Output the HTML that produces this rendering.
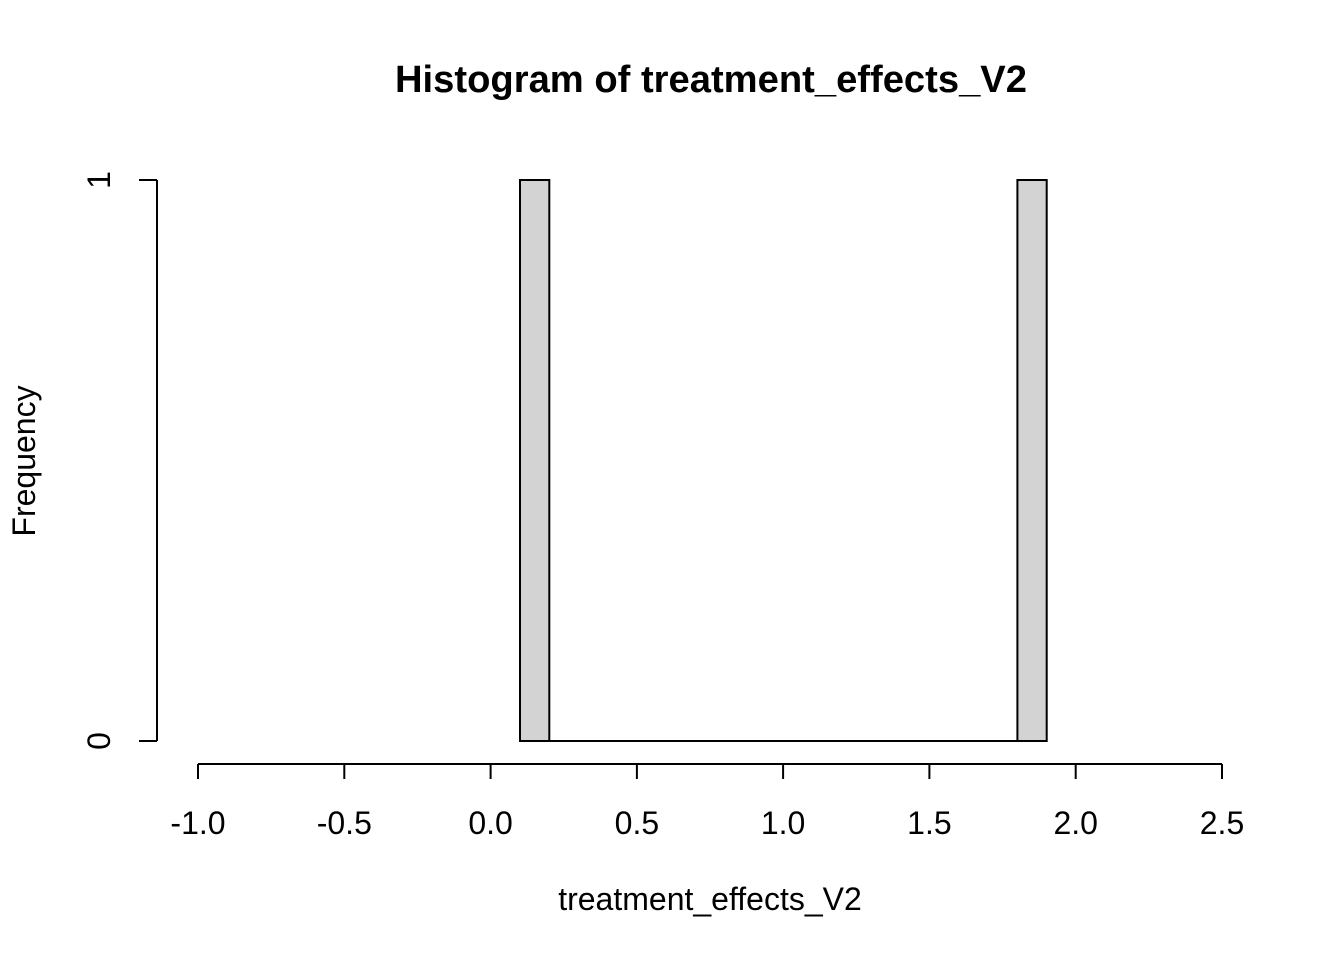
<!DOCTYPE html>
<html><head><meta charset="utf-8"><style>body{margin:0;background:#fff}svg{display:block}</style></head>
<body>
<svg width="1344" height="960" xmlns="http://www.w3.org/2000/svg" font-family="Liberation Sans, Arial, sans-serif">
<rect width="1344" height="960" fill="#fff"/>
<text x="711" y="92" text-anchor="middle" font-size="38" font-weight="bold" textLength="632" lengthAdjust="spacingAndGlyphs">Histogram of treatment_effects_V2</text>
<g fill="#d3d3d3" stroke="#000" stroke-width="2">
<rect x="520" y="180" width="29.3" height="561"/>
<rect x="1017.4" y="180" width="29.3" height="561"/>
</g>
<line x1="549" y1="741" x2="1017.4" y2="741" stroke="#000" stroke-width="2"/>
<g stroke="#000" stroke-width="2" fill="none">
<line x1="198" y1="764" x2="1222" y2="764"/>
<line x1="198" y1="764" x2="198" y2="779"/>
<line x1="344.3" y1="764" x2="344.3" y2="779"/>
<line x1="490.6" y1="764" x2="490.6" y2="779"/>
<line x1="636.9" y1="764" x2="636.9" y2="779"/>
<line x1="783.1" y1="764" x2="783.1" y2="779"/>
<line x1="929.4" y1="764" x2="929.4" y2="779"/>
<line x1="1075.7" y1="764" x2="1075.7" y2="779"/>
<line x1="1222" y1="764" x2="1222" y2="779"/>
<line x1="157" y1="180" x2="157" y2="741"/>
<line x1="157" y1="180" x2="139" y2="180"/>
<line x1="157" y1="741" x2="139" y2="741"/>
</g>
<g font-size="32" text-anchor="middle">
<text x="198" y="834">-1.0</text>
<text x="344.3" y="834">-0.5</text>
<text x="490.6" y="834">0.0</text>
<text x="636.9" y="834">0.5</text>
<text x="783.1" y="834">1.0</text>
<text x="929.4" y="834">1.5</text>
<text x="1075.7" y="834">2.0</text>
<text x="1222" y="834">2.5</text>
<text x="710" y="910">treatment_effects_V2</text>
<text transform="translate(110,741) rotate(-90)">0</text>
<text transform="translate(110,180) rotate(-90)">1</text>
<text transform="translate(35,461) rotate(-90)">Frequency</text>
</g>
</svg>
</body></html>
